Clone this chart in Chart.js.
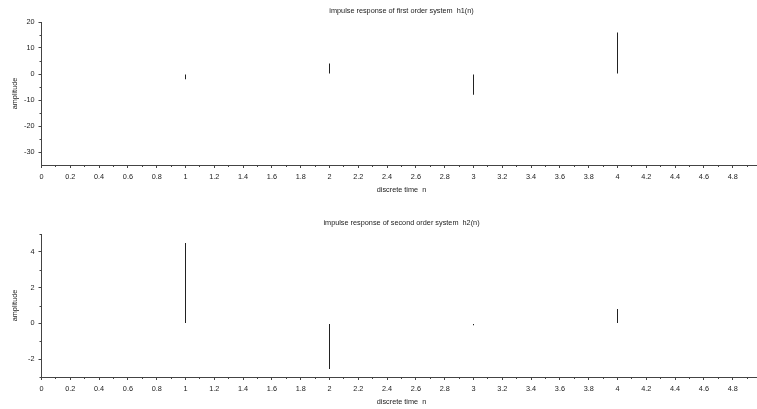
<!DOCTYPE html>
<html>
<head>
<meta charset="utf-8">
<script src="https://cdn.jsdelivr.net/npm/chart.js@4"></script>
<style>
  html, body { margin: 0; padding: 0; background: #fff; overflow: hidden; width: 757px; height: 409px; }
  canvas { position: absolute; left: 0; }
  #c1 { top: 0; }
  #c2 { top: 212px; }
</style>
</head>
<body>
<canvas id="c1" width="762" height="212"></canvas>
<canvas id="c2" width="762" height="212"></canvas>
<script>
// discrete time samples
const n = [1, 2, 3, 4];
// impulse responses
const h1 = [-2, 4, -8, 16];
const h2 = [4.5, -2.55, -0.1, 0.8];

const xTickLabels = ['0', '0.2', '0.4', '0.6', '0.8', '1', '1.2', '1.4', '1.6', '1.8', '2', '2.2', '2.4',
  '2.6', '2.8', '3', '3.2', '3.4', '3.6', '3.8', '4', '4.2', '4.4', '4.6', '4.8'];
const xMinorTicks = [0.1, 0.3, 0.5, 0.7, 0.9, 1.1, 1.3, 1.5, 1.7, 1.9, 2.1, 2.3, 2.5, 2.7, 2.9,
  3.1, 3.3, 3.5, 3.7, 3.9, 4.1, 4.3, 4.5, 4.7, 4.9];
const y1Ticks = [20, 10, 0, -10, -20, -30];
const y1Minor = [15, 5, -5, -15, -25];
const y2Ticks = [4, 2, 0, -2];
const y2Minor = [5, 3, 1, -1, -3];

const axisColor = '#444';
const textColor = '#222';
const font = { family: 'Liberation Sans, Arial, sans-serif', size: 7.3 };

// short minor ticks and the plot title, placed from the chart's own scales
const extras = {
  id: 'extras',
  afterDraw(chart, args, opts) {
    const ctx = chart.ctx;
    const xs = chart.scales.x, ys = chart.scales.y;
    ctx.save();
    ctx.strokeStyle = axisColor;
    ctx.lineWidth = 1;
    ctx.beginPath();
    xMinorTicks.forEach(v => {
      const px = Math.floor(xs.getPixelForValue(v)) + 0.5;
      ctx.moveTo(px, xs.top);
      ctx.lineTo(px, xs.top + 2);
    });
    opts.yMinor.forEach(v => {
      const py = Math.round(ys.getPixelForValue(v)) + 0.5;
      ctx.moveTo(ys.right - 2, py);
      ctx.lineTo(ys.right, py);
    });
    ctx.stroke();
    const ca = chart.chartArea;
    ctx.fillStyle = textColor;
    ctx.font = font.size + 'px ' + font.family;
    ctx.textAlign = 'center';
    ctx.textBaseline = 'middle';
    ctx.fillText(opts.title, (ca.left + ca.right) / 2, 10.5);
    ctx.restore();
  }
};

function makeChart(id, title, values, yMin, yMax, yTicks, yMinor) {
  return new Chart(document.getElementById(id), {
    type: 'bar',
    data: {
      datasets: [{
        data: n.map((x, i) => ({ x: x, y: values[i] })),
        backgroundColor: '#222',
        barThickness: 1,
        inflateAmount: 0
      }]
    },
    options: {
      responsive: false,
      animation: false,
      devicePixelRatio: 1,
      layout: { padding: { top: 22, left: 0, right: 0.5, bottom: 0 } },
      plugins: {
        legend: { display: false },
        tooltip: { enabled: false },
        title: { display: false },
        extras: { yMinor: yMinor, title: title }
      },
      scales: {
        x: {
          type: 'linear',
          min: 0,
          max: 5,
          offset: false,
          grid: { drawOnChartArea: false, drawTicks: true, tickLength: 3, tickColor: axisColor, offset: false },
          border: { color: axisColor, width: 1 },
          afterBuildTicks: s => { s.ticks = xTickLabels.map(t => ({ value: parseFloat(t) })); },
          afterFit: s => { s.height = 47; },
          ticks: {
            autoSkip: false, maxRotation: 0, padding: 5, color: textColor, font: font,
            callback: v => String(v)
          },
          title: {
            display: true, text: 'discrete time  n', color: textColor, font: font,
            padding: { top: 0, bottom: 17.8 }
          }
        },
        y: {
          min: yMin,
          max: yMax,
          grid: { drawOnChartArea: false, drawTicks: true, tickLength: 3, tickColor: axisColor },
          border: { color: axisColor, width: 1 },
          afterBuildTicks: s => { s.ticks = yTicks.map(v => ({ value: v })); },
          afterFit: s => { s.width = 41.5; },
          ticks: { autoSkip: false, padding: 4, color: textColor, font: font, callback: v => String(v) },
          title: {
            display: true, text: 'amplitude', color: textColor, font: font,
            padding: { top: 10.8, bottom: 0 }
          }
        }
      }
    },
    plugins: [extras]
  });
}

makeChart('c1', 'impulse response of first order system  h1(n)', h1, -35, 20, y1Ticks, y1Minor);
makeChart('c2', 'impulse response of second order system  h2(n)', h2, -3, 5, y2Ticks, y2Minor);
</script>
</body>
</html>
